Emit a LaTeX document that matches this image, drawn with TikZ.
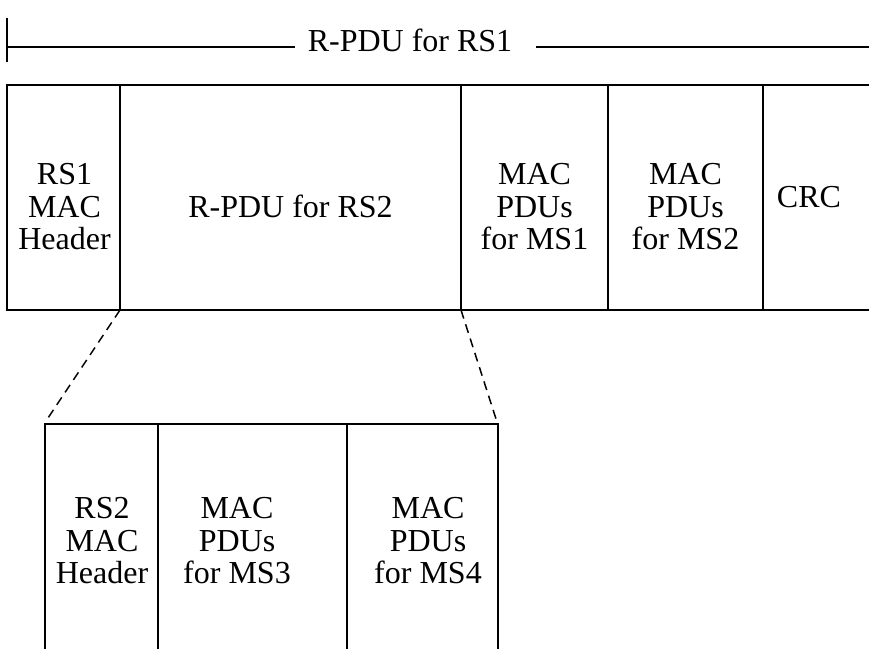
\documentclass[tikz,border=0pt]{standalone}
\usepackage{fontspec}
\setmainfont{Liberation Serif}
\begin{document}
\begin{tikzpicture}[x=1pt,y=-1pt,line join=miter,
  lbl/.style={font=\fontsize{32}{32.5}\selectfont, align=center, inner sep=0pt},
  frame/.style={line width=1.5pt},
  dimline/.style={line width=2pt},
  zoomline/.style={line width=1.5pt, dash pattern=on 9pt off 6pt}]
\useasboundingbox (0,0) rectangle (869,649);

% dimension line
\coordinate (tickT) at (7,18);
\coordinate (tickB) at (7,62);
\coordinate (dimL) at (7,47);
\coordinate (dimA) at (295,47);
\coordinate (dimB) at (536,47);
\coordinate (dimR) at (869,47);
\node[lbl] (rs1pdu) at (410,40) {R-PDU for RS1};
\draw[dimline] (tickT) -- (tickB);
\draw[dimline] (dimL) -- (dimA);
\draw[dimline] (dimB) -- (dimR);

% top frame
\coordinate (tTL) at (7,85);
\coordinate (tBL) at (7,310);
\coordinate (tTR) at (869,85);
\coordinate (tBR) at (869,310);
\draw[frame] (tTR) -- (tTL) -- (tBL) -- (tBR);
\foreach \x/\n in {120/a,461/b,608/c,763/d}{
  \coordinate (top\n) at (\x,85);
  \coordinate (bot\n) at (\x,310);
  \draw[frame] (top\n) -- (bot\n);
}

\node[lbl] (rs1hdr) at (64.5,207) {RS1\\MAC\\Header};
\node[lbl] (rs2pdu) at (290.5,206) {R-PDU for RS2};
\node[lbl] (ms1) at (534.5,207) {MAC\\PDUs\\for MS1};
\node[lbl] (ms2) at (685.5,207) {MAC\\PDUs\\for MS2};
\node[lbl] (crc) at (809,197) {CRC};

% bottom frame
\coordinate (bTL) at (45,424);
\coordinate (bBL) at (45,649);
\coordinate (bTR) at (498,424);
\coordinate (bBR) at (498,649);
\draw[frame] (bBL) -- (bTL) -- (bTR) -- (bBR);
\foreach \x/\n in {158/e,347/f}{
  \coordinate (top\n) at (\x,424);
  \coordinate (bot\n) at (\x,649);
  \draw[frame] (top\n) -- (bot\n);
}

\node[lbl] (rs2hdr) at (102,541) {RS2\\MAC\\Header};
\node[lbl] (ms3) at (237,541) {MAC\\PDUs\\for MS3};
\node[lbl] (ms4) at (428,541) {MAC\\PDUs\\for MS4};

% zoom lines
\coordinate (zl) at (48,418);
\coordinate (zr) at (497,422);
\draw[zoomline] (bota) -- (zl);
\draw[zoomline] (botb) -- (zr);
\end{tikzpicture}
\end{document}
